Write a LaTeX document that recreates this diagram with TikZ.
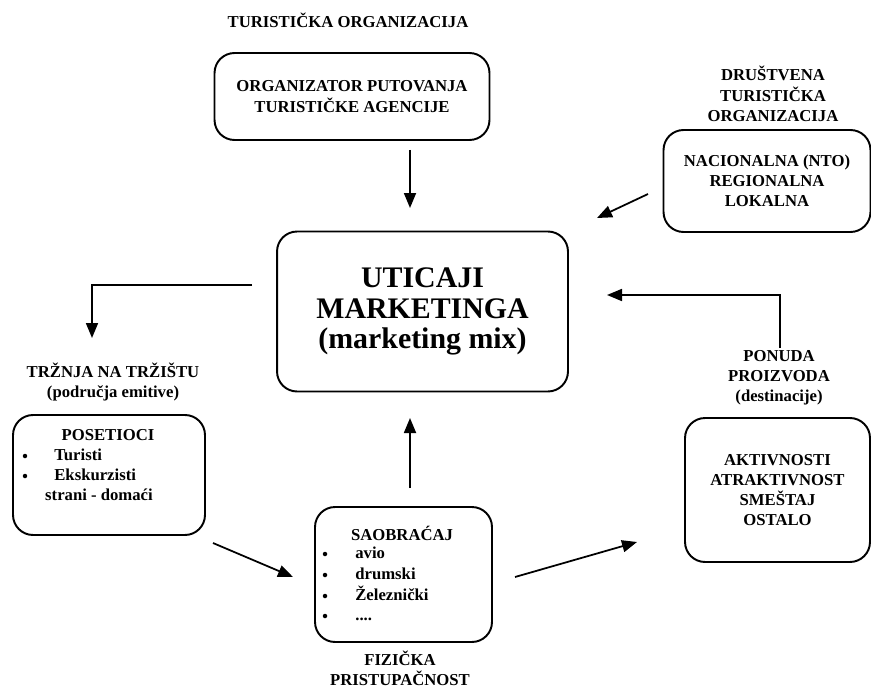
\documentclass[tikz,border=0pt]{standalone}
\usepackage{fontspec}
\setmainfont{Liberation Serif}
\usepackage{tikz}
\usetikzlibrary{arrows.meta}

\begin{document}
\begin{tikzpicture}[x=0.02cm, y=-0.02cm,
  box/.style={draw, line width=1.1pt, rounded corners=0.4cm, align=center, inner sep=0pt},
  lbl/.style={align=center, font=\fontsize{9.5}{11.5}\selectfont\bfseries, inner sep=0pt},
  itm/.style={anchor=base west, font=\fontsize{9.5}{11.5}\selectfont\bfseries, inner sep=0pt},
  dot/.style={circle, fill, inner sep=0pt, minimum size=0.09cm},
  arr/.style={-{Triangle[length=0.3cm,width=0.24cm]}, line width=1pt}]
\useasboundingbox (0,0) rectangle (871,689);
% boxes
\node [box, minimum width=5.5cm, minimum height=1.74cm, font=\fontsize{9.5}{11.5}\selectfont\bfseries] (org) at (352,96.5) {ORGANIZATOR PUTOVANJA\\TURISTIČKE AGENCIJE};
\node [box, minimum width=5.82cm, minimum height=3.2cm, font=\fontsize{17}{17.5}\selectfont\bfseries] (mix) at (422.5,311.5) {UTICAJI\\MARKETINGA\\(marketing mix)};
\node [box, minimum width=4.14cm, minimum height=2.04cm, font=\fontsize{9.5}{11.5}\selectfont\bfseries] (nto) at (767,181) {NACIONALNA (NTO)\\REGIONALNA\\LOKALNA};
\node [box, minimum width=3.7cm, minimum height=2.88cm, font=\fontsize{9.5}{11.5}\selectfont\bfseries] (akt) at (777.5,490) {AKTIVNOSTI\\ATRAKTIVNOST\\SMEŠTAJ\\OSTALO};
\node [box, minimum width=3.84cm, minimum height=2.4cm] (pos) at (109,475) {};
\node [box, minimum width=3.54cm, minimum height=2.7cm] (sao) at (403.5,574.5) {};
% labels
\node [lbl] (torg) at (348,20) {TURISTIČKA ORGANIZACIJA};
\node [lbl] (dto) at (773,94) {DRUŠTVENA\\TURISTIČKA\\ORGANIZACIJA};
\node [lbl] (trz) at (113,382) {TRŽNJA NA TRŽIŠTU\\(područja emitive)};
\node [lbl] (pon) at (779,378) {PONUDA\\PROIZVODA\\(destinacije)};
\node [lbl] (fiz) at (400,668) {FIZIČKA\\PRISTUPAČNOST};
% posetioci
\node [lbl] (post) at (108,435) {POSETIOCI};
\node [dot] (pb1) at (25,456) {};
\node [dot] (pb2) at (25,476) {};
\node [itm] (pi1) at (54,460) {Turisti};
\node [itm] (pi2) at (54,480) {Ekskurzisti};
\node [lbl] (pi3) at (99,495) {strani - domaći};
% saobracaj
\node [lbl] (saot) at (402,533) {SAOBRAĆAJ};
\node [dot] (sb1) at (325,554) {};
\node [dot] (sb2) at (325,575) {};
\node [dot] (sb3) at (325,596) {};
\node [dot] (sb4) at (325,616) {};
\node [itm] (si1) at (355,558) {avio};
\node [itm] (si2) at (355,579) {drumski};
\node [itm] (si3) at (355,600) {Železnički};
\node [itm] (si4) at (355,620) {....};
% arrow ends
\coordinate (c1) at (410,150);
\coordinate (c2) at (410,208);
\coordinate (c3) at (648,194);
\coordinate (c4) at (597,218);
\coordinate (c5) at (252,285);
\coordinate (c6) at (92,338);
\coordinate (c7) at (780,348);
\coordinate (c8) at (607,295);
\coordinate (c9) at (213,543);
\coordinate (c10) at (293,577);
\coordinate (c11) at (410,488);
\coordinate (c12) at (410,418);
\coordinate (c13) at (515,577);
\coordinate (c14) at (637,542);
\draw [arr] (c1) -- (c2);
\draw [arr] (c3) -- (c4);
\draw [arr] (c5) -| (c6);
\draw [arr] (c7) |- (c8);
\draw [arr] (c9) -- (c10);
\draw [arr] (c11) -- (c12);
\draw [arr] (c13) -- (c14);
\end{tikzpicture}
\end{document}
